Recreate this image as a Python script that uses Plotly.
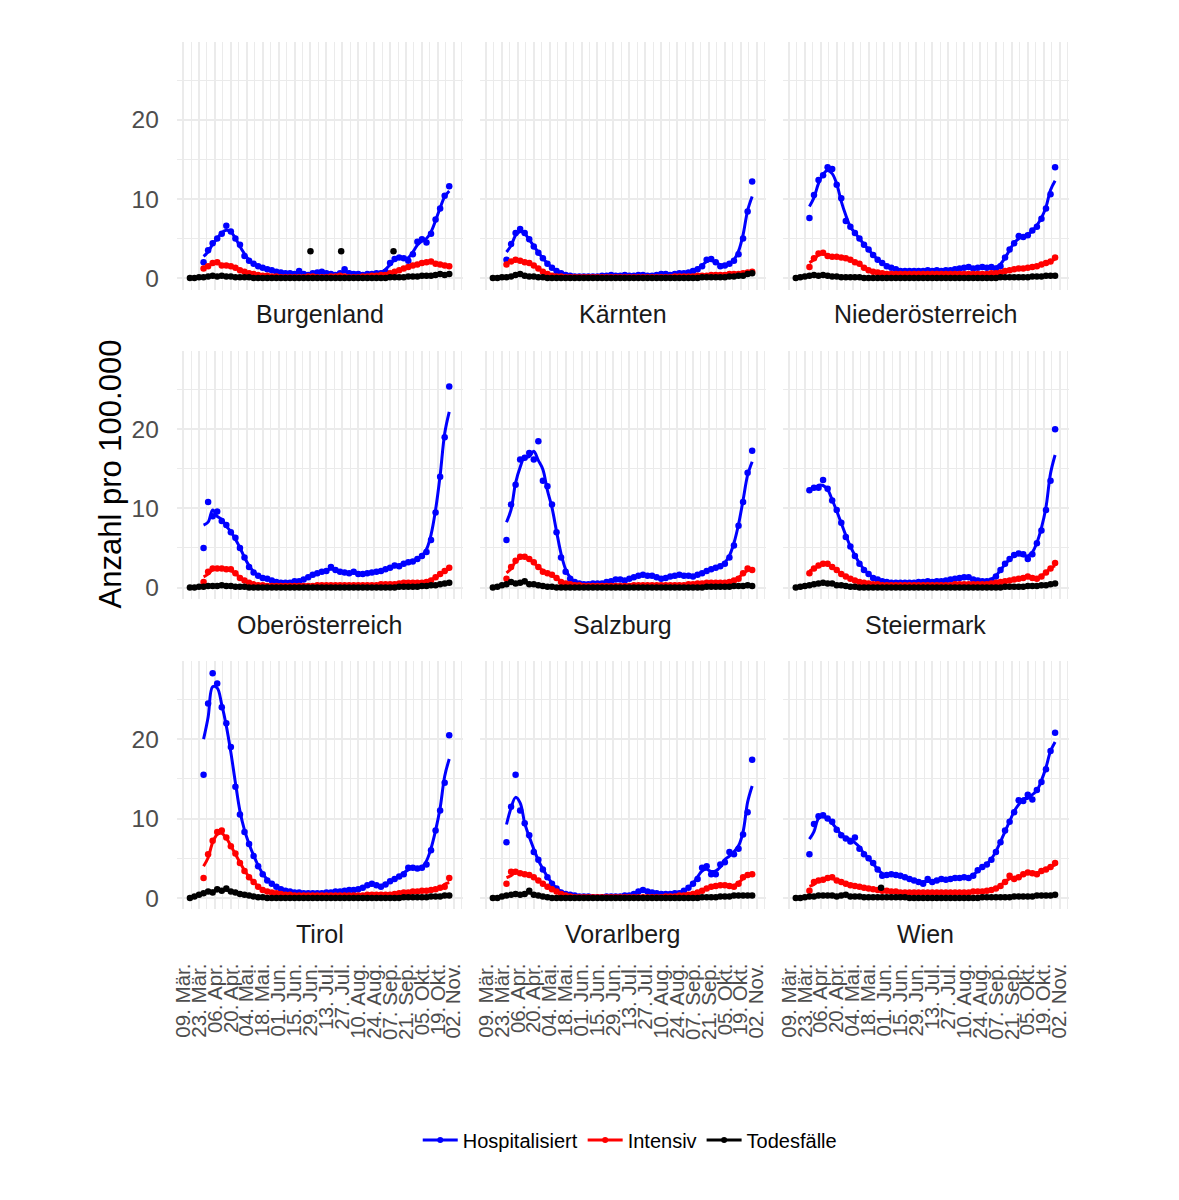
#!/usr/bin/env python3
# -*- coding: utf-8 -*-

import pandas as pd
import plotly.graph_objects as go
from plotly.subplots import make_subplots

datum_spital = pd.date_range("2020-03-27", periods=55, freq="4D")
datum_tod = pd.date_range("2020-03-15", periods=58, freq="4D")

laender = ["Burgenland", "Kärnten", "Niederösterreich", "Oberösterreich", "Salzburg",
           "Steiermark", "Tirol", "Vorarlberg", "Wien"]

tick_daten = ["2020-03-09", "2020-03-23", "2020-04-06", "2020-04-20", "2020-05-04", "2020-05-18",
              "2020-06-01", "2020-06-15", "2020-06-29", "2020-07-13", "2020-07-27", "2020-08-10",
              "2020-08-24", "2020-09-07", "2020-09-21", "2020-10-05", "2020-10-19", "2020-11-02"]
tick_text = ["09. Mär.", "23. Mär.", "06. Apr.", "20. Apr.", "04. Mai.", "18. Mai.", "01. Jun.",
             "15. Jun.", "29. Jun.", "13. Jul.", "27. Jul.", "10. Aug.", "24. Aug.", "07. Sep.",
             "21. Sep.", "05. Okt.", "19. Okt.", "02. Nov."]

burgenland_hosp = [2.0, 3.5, 4.4, 5.0, 5.6, 6.6, 5.9, 5.0, 4.2, 2.8,
                   2.2, 1.8, 1.5, 1.3, 1.1, 1.0, 0.8, 0.7, 0.6, 0.6,
                   0.5, 0.9, 0.5, 0.4, 0.6, 0.7, 0.8, 0.6, 0.5, 0.4,
                   0.6, 1.1, 0.6, 0.5, 0.5, 0.4, 0.5, 0.5, 0.6, 0.6,
                   0.8, 1.9, 2.4, 2.6, 2.5, 2.2, 3.0, 4.6, 4.9, 4.5,
                   5.6, 7.4, 8.8, 10.4, 11.6]
burgenland_icu = [1.2, 1.5, 1.9, 2.0, 1.6, 1.6, 1.5, 1.3, 1.0, 0.8,
                  0.6, 0.5, 0.4, 0.3, 0.3, 0.2, 0.2, 0.1, 0.1, 0.1,
                  0.1, 0.1, 0.1, 0.2, 0.2, 0.1, 0.1, 0.1, 0.2, 0.2,
                  0.3, 0.2, 0.1, 0.1, 0.1, 0.2, 0.2, 0.3, 0.3, 0.4,
                  0.4, 0.6, 0.8, 1.0, 1.2, 1.4, 1.6, 1.7, 1.9, 2.0,
                  2.1, 1.8, 1.7, 1.6, 1.5]
burgenland_tod = [0.0, 0.0, 0.1, 0.1, 0.2, 0.3, 0.2, 0.3, 0.2, 0.2,
                  0.1, 0.1, 0.1, 0.1, 0.0, 0.0, 0.0, 0.0, 0.0, 0.0,
                  0.0, 0.0, 0.0, 0.0, 0.0, 0.0, 0.0, 0.0, 0.0, 0.0,
                  0.0, 0.0, 0.0, 0.0, 0.0, 0.0, 0.0, 0.0, 0.0, 0.0,
                  0.0, 0.0, 0.0, 0.0, 0.1, 0.1, 0.1, 0.1, 0.2, 0.2,
                  0.2, 0.3, 0.3, 0.3, 0.4, 0.5, 0.4, 0.5]
burgenland_tod_ausreisser_datum = ["2020-06-29", "2020-07-26", "2020-09-10"]
burgenland_tod_ausreisser = [3.4, 3.4, 3.4]

kaernten_hosp = [2.3, 4.3, 5.7, 6.2, 5.7, 4.9, 4.0, 3.2, 2.5, 1.8,
                 1.3, 0.9, 0.6, 0.4, 0.3, 0.2, 0.2, 0.2, 0.2, 0.2,
                 0.2, 0.3, 0.3, 0.4, 0.3, 0.3, 0.4, 0.3, 0.3, 0.4,
                 0.4, 0.3, 0.3, 0.4, 0.5, 0.5, 0.4, 0.5, 0.6, 0.6,
                 0.7, 0.9, 1.1, 1.5, 2.3, 2.4, 2.0, 1.5, 1.6, 1.8,
                 2.2, 3.0, 5.0, 8.4, 12.2]
kaernten_icu = [1.7, 2.1, 2.3, 2.2, 2.0, 1.9, 1.6, 1.2, 0.8, 0.5,
                0.3, 0.2, 0.2, 0.1, 0.1, 0.1, 0.1, 0.1, 0.1, 0.1,
                0.1, 0.1, 0.1, 0.1, 0.1, 0.1, 0.1, 0.1, 0.1, 0.1,
                0.1, 0.1, 0.1, 0.1, 0.1, 0.1, 0.1, 0.2, 0.2, 0.2,
                0.2, 0.2, 0.3, 0.3, 0.3, 0.4, 0.4, 0.4, 0.4, 0.5,
                0.5, 0.5, 0.6, 0.7, 0.8]
kaernten_tod = [0.0, 0.0, 0.1, 0.1, 0.2, 0.4, 0.5, 0.3, 0.2, 0.2,
                0.1, 0.1, 0.0, 0.0, 0.0, 0.0, 0.0, 0.0, 0.0, 0.0,
                0.0, 0.0, 0.0, 0.0, 0.0, 0.0, 0.0, 0.0, 0.0, 0.0,
                0.0, 0.0, 0.0, 0.0, 0.0, 0.0, 0.0, 0.0, 0.0, 0.0,
                0.0, 0.0, 0.0, 0.0, 0.0, 0.0, 0.1, 0.1, 0.1, 0.1,
                0.1, 0.1, 0.2, 0.2, 0.3, 0.3, 0.5, 0.6]

noe_hosp = [7.6, 10.5, 12.4, 13.0, 14.0, 13.8, 11.8, 10.1, 7.2, 6.5,
            5.7, 5.0, 4.2, 3.6, 2.9, 2.3, 1.9, 1.5, 1.3, 1.1,
            0.9, 0.9, 0.9, 0.9, 0.9, 0.9, 1.0, 0.9, 1.0, 0.9,
            1.0, 1.0, 1.1, 1.2, 1.3, 1.4, 1.2, 1.3, 1.4, 1.3,
            1.4, 1.2, 1.5, 2.6, 3.6, 4.4, 5.3, 5.2, 5.4, 6.0,
            6.5, 7.5, 8.8, 10.6, 14.0]
noe_icu = [1.4, 2.5, 3.1, 3.2, 2.8, 2.7, 2.7, 2.6, 2.5, 2.3,
           2.0, 1.8, 1.3, 1.0, 0.8, 0.7, 0.6, 0.5, 0.5, 0.5,
           0.5, 0.5, 0.5, 0.5, 0.5, 0.5, 0.5, 0.5, 0.5, 0.5,
           0.5, 0.5, 0.5, 0.5, 0.5, 0.5, 0.5, 0.5, 0.5, 0.5,
           0.6, 0.6, 0.7, 0.9, 1.0, 1.1, 1.2, 1.2, 1.3, 1.4,
           1.5, 1.7, 1.9, 2.1, 2.6]
noe_tod = [0.0, 0.1, 0.2, 0.3, 0.4, 0.3, 0.4, 0.3, 0.2, 0.2,
           0.1, 0.1, 0.1, 0.1, 0.1, 0.0, 0.0, 0.0, 0.0, 0.0,
           0.0, 0.0, 0.0, 0.0, 0.0, 0.0, 0.0, 0.0, 0.0, 0.0,
           0.0, 0.0, 0.0, 0.0, 0.0, 0.0, 0.0, 0.0, 0.0, 0.0,
           0.0, 0.0, 0.0, 0.0, 0.0, 0.1, 0.1, 0.1, 0.1, 0.1,
           0.1, 0.1, 0.2, 0.2, 0.2, 0.3, 0.3, 0.3]

ooe_hosp = [5.0, 10.8, 9.0, 9.6, 8.4, 7.9, 7.0, 6.3, 5.0, 3.8,
            2.6, 1.9, 1.5, 1.2, 1.1, 0.9, 0.7, 0.6, 0.6, 0.6,
            0.8, 0.8, 1.0, 1.3, 1.6, 1.8, 2.0, 2.1, 2.6, 2.2,
            2.0, 1.9, 1.8, 2.0, 1.7, 1.7, 1.8, 1.9, 2.0, 2.1,
            2.3, 2.5, 2.8, 2.7, 3.0, 3.2, 3.3, 3.6, 4.0, 4.5,
            6.0, 9.5, 14.0, 19.0, 25.4]
ooe_icu = [0.7, 2.0, 2.4, 2.4, 2.4, 2.3, 2.3, 1.8, 1.2, 0.9,
           0.6, 0.4, 0.3, 0.3, 0.2, 0.2, 0.2, 0.2, 0.2, 0.2,
           0.2, 0.2, 0.2, 0.2, 0.2, 0.3, 0.3, 0.3, 0.3, 0.3,
           0.3, 0.3, 0.3, 0.3, 0.3, 0.3, 0.3, 0.3, 0.3, 0.4,
           0.4, 0.4, 0.4, 0.5, 0.6, 0.6, 0.6, 0.6, 0.6, 0.7,
           0.9, 1.3, 1.7, 2.1, 2.5]
ooe_tod = [0.0, 0.0, 0.1, 0.1, 0.2, 0.2, 0.2, 0.3, 0.2, 0.2,
           0.1, 0.1, 0.1, 0.0, 0.0, 0.0, 0.0, 0.0, 0.0, 0.0,
           0.0, 0.0, 0.0, 0.0, 0.0, 0.0, 0.0, 0.0, 0.0, 0.0,
           0.0, 0.0, 0.0, 0.0, 0.0, 0.0, 0.0, 0.0, 0.0, 0.0,
           0.0, 0.0, 0.0, 0.0, 0.0, 0.0, 0.1, 0.1, 0.1, 0.1,
           0.1, 0.2, 0.2, 0.3, 0.3, 0.4, 0.5, 0.6]

salzburg_hosp = [6.0, 10.5, 13.0, 16.2, 16.4, 17.0, 16.2, 18.5, 13.5, 12.8,
                 10.5, 7.0, 3.8, 2.0, 1.1, 0.7, 0.5, 0.4, 0.4, 0.5,
                 0.5, 0.5, 0.7, 0.8, 1.0, 1.0, 0.9, 1.1, 1.3, 1.5,
                 1.6, 1.5, 1.5, 1.3, 1.1, 1.2, 1.4, 1.5, 1.6, 1.5,
                 1.5, 1.4, 1.6, 1.8, 2.1, 2.3, 2.5, 2.7, 3.0, 3.8,
                 5.3, 7.8, 10.8, 14.5, 17.3]
salzburg_icu = [1.1, 2.6, 3.4, 3.9, 3.9, 3.6, 3.2, 2.6, 2.0, 1.8,
                1.6, 1.2, 0.7, 0.5, 0.4, 0.3, 0.3, 0.2, 0.2, 0.2,
                0.2, 0.2, 0.2, 0.2, 0.2, 0.2, 0.2, 0.2, 0.3, 0.3,
                0.3, 0.3, 0.3, 0.3, 0.3, 0.3, 0.3, 0.3, 0.3, 0.3,
                0.4, 0.4, 0.5, 0.5, 0.6, 0.6, 0.6, 0.6, 0.6, 0.7,
                0.9, 1.1, 1.8, 2.4, 2.2]
salzburg_tod = [0.0, 0.1, 0.3, 0.4, 0.7, 0.5, 0.6, 0.8, 0.4, 0.4,
                0.3, 0.2, 0.1, 0.1, 0.0, 0.0, 0.0, 0.0, 0.0, 0.0,
                0.0, 0.0, 0.0, 0.0, 0.0, 0.0, 0.0, 0.0, 0.0, 0.0,
                0.0, 0.0, 0.0, 0.0, 0.0, 0.0, 0.0, 0.0, 0.0, 0.0,
                0.0, 0.0, 0.0, 0.0, 0.0, 0.0, 0.0, 0.1, 0.1, 0.1,
                0.1, 0.1, 0.1, 0.2, 0.2, 0.2, 0.3, 0.2]

steiermark_hosp = [12.3, 12.6, 12.6, 13.6, 12.5, 11.0, 9.8, 8.2, 6.4, 5.2,
                   4.0, 3.0, 2.2, 1.7, 1.2, 1.0, 0.8, 0.7, 0.6, 0.6,
                   0.6, 0.6, 0.6, 0.6, 0.7, 0.7, 0.8, 0.7, 0.8, 0.8,
                   0.9, 1.0, 1.1, 1.2, 1.3, 1.3, 1.0, 0.9, 0.8, 0.8,
                   0.9, 1.4, 2.2, 3.0, 3.6, 4.1, 4.3, 4.2, 3.6, 4.2,
                   5.6, 7.2, 9.8, 13.5, 20.0]
steiermark_icu = [1.8, 2.4, 2.8, 3.0, 3.0, 2.6, 2.2, 1.7, 1.4, 1.1,
                  0.9, 0.7, 0.6, 0.5, 0.4, 0.4, 0.3, 0.3, 0.3, 0.3,
                  0.3, 0.3, 0.3, 0.3, 0.3, 0.3, 0.3, 0.3, 0.3, 0.3,
                  0.3, 0.3, 0.4, 0.4, 0.4, 0.4, 0.4, 0.4, 0.4, 0.4,
                  0.5, 0.6, 0.7, 0.8, 0.9, 1.0, 1.1, 1.2, 1.4, 1.2,
                  1.1, 1.4, 1.9, 2.4, 3.1]
steiermark_tod = [0.0, 0.1, 0.2, 0.3, 0.4, 0.5, 0.6, 0.5, 0.5, 0.3,
                  0.3, 0.2, 0.1, 0.1, 0.0, 0.0, 0.0, 0.0, 0.0, 0.0,
                  0.0, 0.0, 0.0, 0.0, 0.0, 0.0, 0.0, 0.0, 0.0, 0.0,
                  0.0, 0.0, 0.0, 0.0, 0.0, 0.0, 0.0, 0.0, 0.0, 0.0,
                  0.0, 0.0, 0.0, 0.0, 0.0, 0.0, 0.1, 0.1, 0.1, 0.1,
                  0.1, 0.2, 0.2, 0.2, 0.3, 0.3, 0.4, 0.5]

tirol_hosp = [15.5, 24.5, 28.3, 27.0, 24.0, 22.0, 19.0, 14.0, 10.5, 8.3,
              6.8, 5.3, 4.0, 3.0, 2.2, 1.8, 1.4, 1.1, 0.9, 0.8,
              0.7, 0.7, 0.6, 0.6, 0.6, 0.6, 0.6, 0.7, 0.7, 0.8,
              0.8, 0.9, 1.0, 1.0, 1.1, 1.3, 1.6, 1.8, 1.6, 1.4,
              1.7, 2.1, 2.4, 2.7, 3.0, 3.8, 3.8, 3.7, 3.8, 4.2,
              6.0, 8.5, 11.0, 14.5, 20.5]
tirol_icu = [2.5, 5.5, 7.2, 8.3, 8.5, 7.6, 6.5, 5.6, 4.4, 3.4,
             2.6, 2.0, 1.4, 1.0, 0.8, 0.7, 0.6, 0.5, 0.4, 0.4,
             0.3, 0.3, 0.3, 0.3, 0.3, 0.3, 0.3, 0.3, 0.3, 0.3,
             0.3, 0.3, 0.3, 0.3, 0.3, 0.3, 0.4, 0.4, 0.4, 0.4,
             0.4, 0.4, 0.5, 0.6, 0.7, 0.7, 0.8, 0.8, 0.9, 0.9,
             1.0, 1.1, 1.3, 1.4, 2.5]
tirol_tod = [0.0, 0.2, 0.4, 0.6, 0.8, 0.7, 1.1, 0.9, 1.2, 0.8,
             0.7, 0.5, 0.4, 0.3, 0.2, 0.1, 0.1, 0.0, 0.0, 0.0,
             0.0, 0.0, 0.0, 0.0, 0.0, 0.0, 0.0, 0.0, 0.0, 0.0,
             0.0, 0.0, 0.0, 0.0, 0.0, 0.0, 0.0, 0.0, 0.0, 0.0,
             0.0, 0.0, 0.0, 0.0, 0.0, 0.0, 0.0, 0.1, 0.1, 0.1,
             0.1, 0.1, 0.1, 0.2, 0.2, 0.2, 0.3, 0.3]

vorarlberg_hosp = [7.0, 11.5, 15.5, 11.0, 9.4, 7.9, 5.8, 4.8, 3.6, 2.6,
                   1.8, 1.2, 0.7, 0.5, 0.4, 0.3, 0.2, 0.2, 0.2, 0.1,
                   0.1, 0.1, 0.2, 0.2, 0.2, 0.2, 0.3, 0.3, 0.5, 0.8,
                   1.0, 0.8, 0.7, 0.6, 0.5, 0.5, 0.5, 0.6, 0.6, 0.9,
                   1.3, 1.8, 2.4, 3.8, 4.0, 3.0, 3.0, 4.2, 4.5, 5.8,
                   5.5, 6.2, 8.0, 10.8, 17.4]
vorarlberg_icu = [1.8, 3.3, 3.3, 3.1, 3.0, 2.9, 2.6, 2.2, 1.8, 1.4,
                  1.1, 0.8, 0.5, 0.3, 0.2, 0.1, 0.1, 0.1, 0.1, 0.1,
                  0.1, 0.1, 0.1, 0.1, 0.1, 0.1, 0.1, 0.1, 0.1, 0.1,
                  0.1, 0.1, 0.1, 0.1, 0.1, 0.2, 0.2, 0.2, 0.3, 0.3,
                  0.4, 0.5, 0.7, 0.9, 1.2, 1.4, 1.5, 1.6, 1.6, 1.5,
                  1.4, 1.8, 2.6, 2.9, 3.0]
vorarlberg_tod = [0.0, 0.0, 0.2, 0.3, 0.4, 0.5, 0.4, 0.5, 0.9, 0.4,
                  0.3, 0.2, 0.1, 0.0, 0.0, 0.0, 0.0, 0.0, 0.0, 0.0,
                  0.0, 0.0, 0.0, 0.0, 0.0, 0.0, 0.0, 0.0, 0.0, 0.0,
                  0.0, 0.0, 0.0, 0.0, 0.0, 0.0, 0.0, 0.0, 0.0, 0.0,
                  0.0, 0.0, 0.0, 0.0, 0.0, 0.0, 0.1, 0.1, 0.1, 0.1,
                  0.2, 0.2, 0.2, 0.3, 0.3, 0.3, 0.3, 0.3]

wien_hosp = [5.5, 9.3, 10.3, 10.4, 10.0, 9.6, 8.6, 7.9, 7.5, 7.1,
             7.6, 6.2, 5.5, 5.0, 4.4, 3.6, 2.8, 2.9, 3.0, 2.9,
             2.8, 2.6, 2.4, 2.2, 2.0, 1.8, 2.4, 2.0, 2.2, 2.4,
             2.3, 2.4, 2.5, 2.5, 2.6, 2.5, 2.8, 3.5, 3.9, 4.2,
             4.8, 5.8, 7.0, 8.5, 9.6, 10.8, 12.3, 12.2, 13.0, 12.4,
             13.6, 14.6, 16.2, 18.5, 20.8]
wien_icu = [0.9, 2.0, 2.2, 2.3, 2.5, 2.6, 2.2, 2.0, 1.8, 1.6,
            1.5, 1.4, 1.3, 1.2, 1.1, 1.0, 0.9, 0.9, 0.8, 0.8,
            0.7, 0.7, 0.7, 0.7, 0.7, 0.7, 0.7, 0.7, 0.7, 0.7,
            0.7, 0.7, 0.7, 0.7, 0.7, 0.7, 0.8, 0.8, 0.8, 0.9,
            1.0, 1.2, 1.5, 2.0, 2.8, 2.4, 2.6, 3.0, 3.2, 3.1,
            3.0, 3.4, 3.6, 3.9, 4.4]
wien_tod = [0.0, 0.0, 0.1, 0.2, 0.2, 0.3, 0.3, 0.3, 0.3, 0.2,
            0.3, 0.4, 0.2, 0.2, 0.2, 0.1, 0.1, 0.1, 0.1, 0.1,
            0.1, 0.1, 0.1, 0.1, 0.1, 0.0, 0.0, 0.0, 0.0, 0.0,
            0.0, 0.0, 0.0, 0.0, 0.0, 0.0, 0.0, 0.0, 0.0, 0.0,
            0.0, 0.1, 0.1, 0.1, 0.1, 0.1, 0.1, 0.1, 0.2, 0.2,
            0.2, 0.2, 0.2, 0.3, 0.3, 0.3, 0.3, 0.4]
wien_tod_ausreisser_datum = ["2020-05-29"]
wien_tod_ausreisser = [1.3]

hosp = [burgenland_hosp, kaernten_hosp, noe_hosp, ooe_hosp, salzburg_hosp,
        steiermark_hosp, tirol_hosp, vorarlberg_hosp, wien_hosp]
icu = [burgenland_icu, kaernten_icu, noe_icu, ooe_icu, salzburg_icu,
       steiermark_icu, tirol_icu, vorarlberg_icu, wien_icu]
tod = [burgenland_tod, kaernten_tod, noe_tod, ooe_tod, salzburg_tod,
       steiermark_tod, tirol_tod, vorarlberg_tod, wien_tod]

W, H = 1179, 1200
FONT = "Liberation Sans, Arial, Helvetica, sans-serif"
col_px = [(172, 460), (477, 765), (782, 1070)]
row_px = [(42, 290), (352, 600), (662, 911)]
strip_y = [315, 626, 936]
PUNKT = 6.5

fig = make_subplots(rows=3, cols=3)

for i, land in enumerate(laender):
    r, c = i // 3 + 1, i % 3 + 1
    serien = [("Hospitalisiert", "#0000FF", datum_spital, hosp[i]),
              ("Intensiv", "#FF0000", datum_spital, icu[i]),
              ("Todesfälle", "#000000", datum_tod, tod[i])]
    for name, farbe, x, werte in serien:
        glatt = pd.Series(werte, dtype=float).rolling(3, center=True, min_periods=1).mean()
        fig.add_trace(go.Scatter(x=x, y=werte, mode="markers", name=name, showlegend=False,
                                 marker=dict(color=farbe, size=PUNKT)), row=r, col=c)
        fig.add_trace(go.Scatter(x=x, y=glatt, mode="lines", name=name, showlegend=False,
                                 line=dict(color=farbe, width=3, shape="spline")), row=r, col=c)

fig.add_trace(go.Scatter(x=burgenland_tod_ausreisser_datum, y=burgenland_tod_ausreisser, mode="markers",
                         showlegend=False, marker=dict(color="#000000", size=PUNKT)), row=1, col=1)
fig.add_trace(go.Scatter(x=wien_tod_ausreisser_datum, y=wien_tod_ausreisser, mode="markers",
                         showlegend=False, marker=dict(color="#000000", size=PUNKT)), row=3, col=3)

# nur fuer die Legende
for name, farbe in [("Hospitalisiert", "#0000FF"), ("Intensiv", "#FF0000"), ("Todesfälle", "#000000")]:
    fig.add_trace(go.Scatter(x=[None], y=[None], mode="lines+markers", name=name,
                             line=dict(color=farbe, width=3), marker=dict(color=farbe, size=6)),
                  row=1, col=1)

for i in range(9):
    r, c = i // 3, i % 3
    x0, x1 = col_px[c]
    y0, y1 = row_px[r]
    fig.update_xaxes(domain=[x0 / W, x1 / W], row=r + 1, col=c + 1,
                     range=["2020-03-03 12:00", "2020-11-10"],
                     tickvals=tick_daten, ticktext=tick_text, tickangle=-90,
                     showticklabels=(r == 2), ticklabelstandoff=49,
                     tickfont=dict(size=20.5, color="#4D4D4D"),
                     showgrid=True, gridcolor="#EBEBEB", gridwidth=1.8, zeroline=False,
                     showline=False, ticks="",
                     minor=dict(showgrid=True, gridcolor="#EBEBEB", gridwidth=0.9,
                                dtick=7 * 86400000, tick0="2020-03-02"))
    fig.update_yaxes(domain=[1 - y1 / H, 1 - y0 / H], row=r + 1, col=c + 1,
                     range=[-1.45, 29.85], tickvals=[0, 10, 20],
                     showticklabels=(c == 0), ticklabelstandoff=17,
                     tickfont=dict(size=24.5, color="#4D4D4D"),
                     showgrid=True, gridcolor="#EBEBEB", gridwidth=1.8, zeroline=False,
                     showline=False, ticks="",
                     minor=dict(showgrid=True, gridcolor="#EBEBEB", gridwidth=0.9, tickvals=[5, 15, 25]))
    fig.add_annotation(text=laender[i], x=(x0 + x1) / 2 / W, y=1 - strip_y[r] / H,
                       xref="paper", yref="paper", showarrow=False,
                       xanchor="center", yanchor="middle",
                       font=dict(size=25, color="#1A1A1A", family=FONT))

fig.add_annotation(text="Anzahl pro 100.000", x=105 / W, y=1 - 475 / H, xref="paper", yref="paper",
                   showarrow=False, textangle=-90, xanchor="center", yanchor="middle",
                   font=dict(size=31, color="#000000", family=FONT))

fig.update_layout(width=W, height=H, margin=dict(l=0, r=0, t=0, b=0),
                  paper_bgcolor="white", plot_bgcolor="white",
                  font=dict(family=FONT, color="#000000"),
                  legend=dict(orientation="h", x=628 / W, xanchor="center", y=1 - 1142 / H,
                              yanchor="middle", font=dict(size=20, color="#000000"),
                              itemwidth=35, bgcolor="rgba(0,0,0,0)"))

fig.write_html("out.html", config={"displayModeBar": False},
               post_script="document.body.style.margin='0';")
